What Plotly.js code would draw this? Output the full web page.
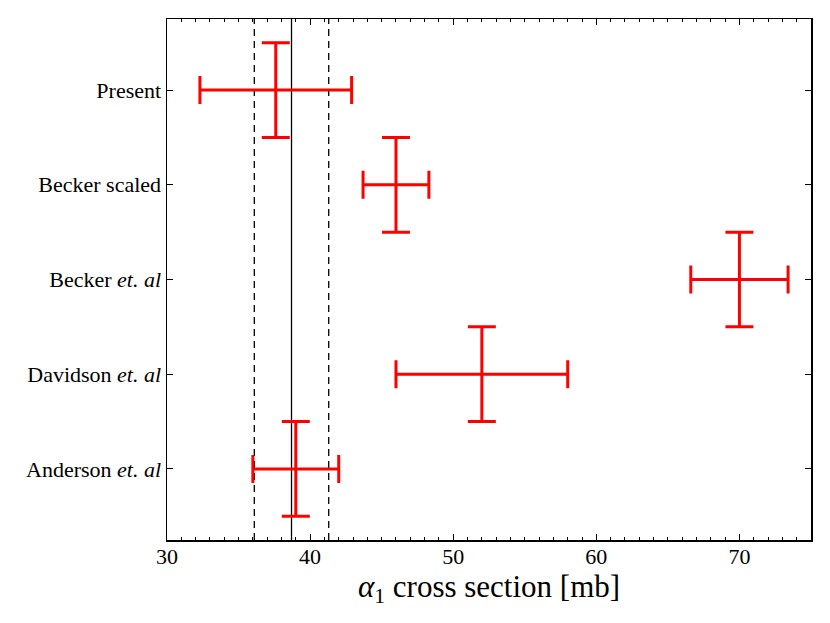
<!DOCTYPE html>
<html>
<head>
<meta charset="utf-8">
<script src="https://cdn.plot.ly/plotly-3.0.1.min.js"></script>
<style>html,body{margin:0;padding:0;background:#fff;}#chart{width:830px;height:623px;}</style>
</head>
<body>
<div id="chart"></div>
<script>
// Data
const labels = ['Present', 'Becker scaled', 'Becker <i>et. al</i>', 'Davidson <i>et. al</i>', 'Anderson <i>et. al</i>'];
const yPos = [4, 3, 2, 1, 0];
const crossSection = [37.6, 46.0, 70.0, 52.0, 39.0];
const crossSectionErr = [5.3, 2.3, 3.4, 6.0, 3.0];
const rowHalfHeight = [0.5, 0.5, 0.5, 0.5, 0.5];
const refCenter = [38.7];
const refBand = [36.1, 41.3];
const xTicks = [30, 40, 50, 60, 70];

const FONT = 'Liberation Serif, Times New Roman, serif';

const trace = {
  type: 'scatter',
  mode: 'markers',
  x: crossSection,
  y: yPos,
  marker: {size: 1, color: 'rgba(0,0,0,0)'},
  error_x: {type: 'data', array: crossSectionErr, visible: true, color: '#ff0000', thickness: 3, width: 14},
  error_y: {type: 'data', array: rowHalfHeight, visible: true, color: '#ff0000', thickness: 3, width: 14},
  hoverinfo: 'skip',
  showlegend: false
};

const shapes = [];
refCenter.forEach(v => shapes.push({type: 'line', xref: 'x', yref: 'paper', x0: v, x1: v, y0: 0, y1: 1, line: {color: '#000', width: 1.3}, layer: 'below'}));
refBand.forEach(v => shapes.push({type: 'line', xref: 'x', yref: 'paper', x0: v, x1: v, y0: 0, y1: 1, line: {color: '#000', width: 1.3, dash: '7px,5px'}, layer: 'below'}));

const layout = {
  width: 830, height: 623,
  margin: {l: 167, r: 19, t: 19, b: 83},
  paper_bgcolor: '#fff', plot_bgcolor: '#fff',
  font: {family: FONT, color: '#000', size: 22},
  showlegend: false,
  xaxis: {
    range: [30, 75], tickvals: xTicks, ticktext: xTicks.map(String),
    ticks: 'inside', ticklen: 6, tickwidth: 1, tickcolor: '#000',
    minor: {dtick: 1, ticks: 'inside', ticklen: 3, tickwidth: 1, tickcolor: '#000'},
    showline: true, linecolor: '#000', linewidth: 1.5, mirror: 'ticks',
    showgrid: false, zeroline: false,
    ticklabelstandoff: -4,
    tickfont: {family: FONT, size: 22},
    title: {text: '<i>α</i><sub>1</sub> cross section [mb]', font: {family: FONT, size: 31}, standoff: 2}
  },
  yaxis: {
    range: [-0.75, 4.75], tickvals: yPos, ticktext: labels,
    ticks: 'inside', ticklen: 6, tickwidth: 1, tickcolor: '#000',
    showline: true, linecolor: '#000', linewidth: 1.5, mirror: 'ticks',
    showgrid: false, zeroline: false,
    tickfont: {family: FONT, size: 22}
  },
  shapes: shapes
};

Plotly.newPlot('chart', [trace], layout, {displayModeBar: false, staticPlot: true});
</script>
</body>
</html>
